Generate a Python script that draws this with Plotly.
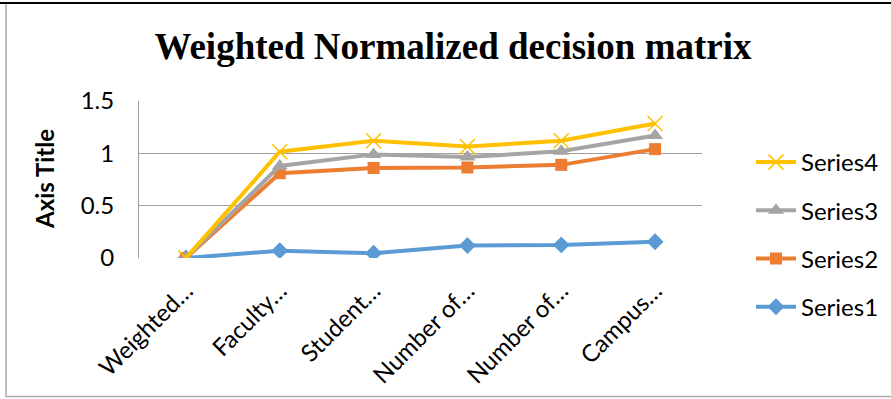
import plotly.graph_objects as go

W, H = 891, 399

categories = ["Weighted…", "Faculty…", "Student…", "Number of…", "Number of…", "Campus…"]
series1 = [0.0, 0.07, 0.045, 0.12, 0.125, 0.155]
series2 = [0.0, 0.81, 0.86, 0.865, 0.89, 1.04]
series3 = [0.0, 0.88, 0.99, 0.965, 1.02, 1.17]
series4 = [0.0, 1.015, 1.12, 1.065, 1.12, 1.285]
series_names = ["Series1", "Series2", "Series3", "Series4"]
y_ticks = [0, 0.5, 1, 1.5]
y_ticktext = ["0", "0.5", "1", "1.5"]

colors = ["#5B9BD5", "#ED7D31", "#A5A5A5", "#FFC000"]
symbols = ["diamond", "square", "triangle-up", "x-thin"]
msizes = [13, 12, 14, 15]

xidx = list(range(len(categories)))
fig = go.Figure()
n = len(series_names)
for i, (name, vals, c, s, ms) in enumerate(zip(series_names, [series1, series2, series3, series4], colors, symbols, msizes)):
    marker = dict(symbol=s, size=ms, color=c)
    if s == "x-thin":
        marker["line"] = dict(color=c, width=1.5)
    fig.add_trace(go.Scatter(
        x=xidx, y=vals, name=name, mode="lines+markers",
        line=dict(color=c, width=4), marker=marker,
        legendgroup=name, legendrank=n - i,
    ))

def px_x(p):
    return p / W

def px_y(p):
    return 1 - p / H

FS = 24
fig.update_layout(
    width=W, height=H,
    margin=dict(l=0, r=0, t=0, b=0),
    paper_bgcolor="white", plot_bgcolor="white",
    font=dict(family="Lato, Calibri, sans-serif", color="black", size=FS),
    title=dict(
        text="<b>Weighted Normalized decision matrix</b>",
        font=dict(family="Liberation Serif, Times New Roman, serif", size=37, color="black"),
        x=453 / W, xanchor="center", y=px_y(46), yanchor="middle",
    ),
    xaxis=dict(
        domain=[px_x(139), px_x(702)],
        range=[-0.5, len(categories) - 0.5],
        tickvals=xidx, ticktext=categories, tickangle=-45,
        showgrid=False, zeroline=False, showline=False,
        ticks="", ticklabelstandoff=13, tickfont=dict(size=FS), automargin=False,
    ),
    yaxis=dict(
        domain=[px_y(258), px_y(101)],
        range=[0, 1.5], tickvals=y_ticks, ticktext=y_ticktext,
        showgrid=True, gridcolor="#A0A0A0", gridwidth=1,
        zeroline=False, showline=True, linecolor="#A0A0A0", linewidth=1,
        ticks="", ticklabelstandoff=19, tickfont=dict(size=FS),
        automargin=False,
    ),
    legend=dict(
        x=px_x(751), y=px_y(140), xanchor="left", yanchor="top",
        traceorder="grouped", tracegroupgap=14,
        font=dict(size=FS), bgcolor="rgba(0,0,0,0)",
        itemwidth=40,
    ),
    showlegend=True,
    annotations=[dict(
        text="<b>Axis Title</b>", textangle=-90, showarrow=False,
        x=px_x(44), y=px_y(179), xref="paper", yref="paper",
        xanchor="center", yanchor="middle", font=dict(size=FS),
    )],
    shapes=[
        dict(type="line", xref="paper", yref="paper", x0=0, x1=1, y0=px_y(3), y1=px_y(3),
             line=dict(color="black", width=2)),
        dict(type="line", xref="paper", yref="paper", x0=px_x(6), x1=px_x(6), y0=px_y(4), y1=px_y(397),
             line=dict(color="#AAAAAA", width=1.5)),
        dict(type="line", xref="paper", yref="paper", x0=px_x(6), x1=1, y0=px_y(396.5), y1=px_y(396.5),
             line=dict(color="#AAAAAA", width=1.5)),
    ],
)

fig.write_html("out.html")
